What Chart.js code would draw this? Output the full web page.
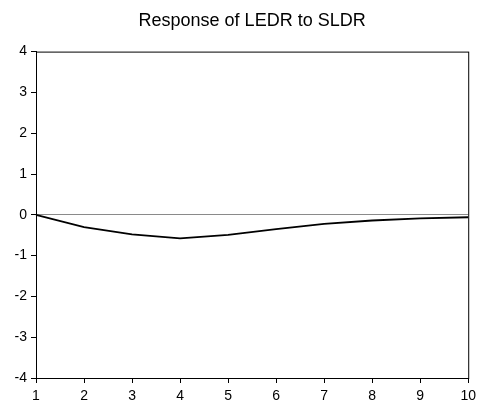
<!DOCTYPE html>
<html>
<head>
<meta charset="utf-8">
<script src="https://cdn.jsdelivr.net/npm/chart.js@4"></script>
<style>
  html, body { margin: 0; padding: 0; background: #fff; }
  #wrap { width: 481px; height: 409px; }
</style>
</head>
<body>
<div id="wrap"><canvas id="irfChart" width="481" height="409"></canvas></div>
<script>
const periods = ['1', '2', '3', '4', '5', '6', '7', '8', '9', '10'];
const response = [0, -0.30, -0.48, -0.58, -0.49, -0.35, -0.22, -0.14, -0.09, -0.06];
const yTicks = [-4, -3, -2, -1, 0, 1, 2, 3, 4];

Chart.defaults.font.family = "'Liberation Sans', Arial, sans-serif";
Chart.defaults.color = '#000';

// box around the plot area (top and right sides too)
const frame = {
    id: 'frame',
    afterDraw(chart) {
        const a = chart.chartArea;
        const ctx = chart.ctx;
        ctx.save();
        ctx.strokeStyle = '#000';
        ctx.lineWidth = 1;
        ctx.strokeRect(a.left + 0.5, a.top + 0.5, a.right - a.left, a.bottom - a.top);
        ctx.restore();
    }
};

new Chart(document.getElementById('irfChart').getContext('2d'), {
    type: 'line',
    data: {
        labels: periods,
        datasets: [{
            data: response,
            borderColor: '#000',
            borderWidth: 1.8,
            pointRadius: 0,
            tension: 0,
            fill: false
        }]
    },
    options: {
        responsive: false,
        animation: false,
        layout: { padding: { left: 0, right: 12, top: 0, bottom: 0 } },
        scales: {
            x: {
                offset: false,
                grid: { drawOnChartArea: false, tickLength: 5, tickColor: '#000', offset: false },
                border: { color: '#000' },
                ticks: { font: { size: 14 }, padding: 5, maxRotation: 0, autoSkip: false },
                afterFit(scale) { scale.height = 31; }
            },
            y: {
                min: -4,
                max: 4,
                afterBuildTicks(scale) { scale.ticks = yTicks.map(v => ({ value: v })); },
                grid: {
                    color: ctx => (ctx.tick && ctx.tick.value === 0 ? '#8a8a8a' : 'rgba(0,0,0,0)'),
                    lineWidth: 1,
                    tickLength: 5,
                    tickColor: '#000'
                },
                border: { color: '#000' },
                ticks: { font: { size: 14 }, padding: 4 },
                afterFit(scale) { scale.width = 36; }
            }
        },
        plugins: {
            legend: { display: false },
            tooltip: { enabled: false },
            title: {
                display: true,
                fullSize: false,
                text: 'Response of LEDR to SLDR',
                color: '#000',
                font: { size: 18, weight: 'normal' },
                padding: { top: 10, bottom: 20 }
            }
        }
    },
    plugins: [frame]
});
</script>
</body>
</html>
